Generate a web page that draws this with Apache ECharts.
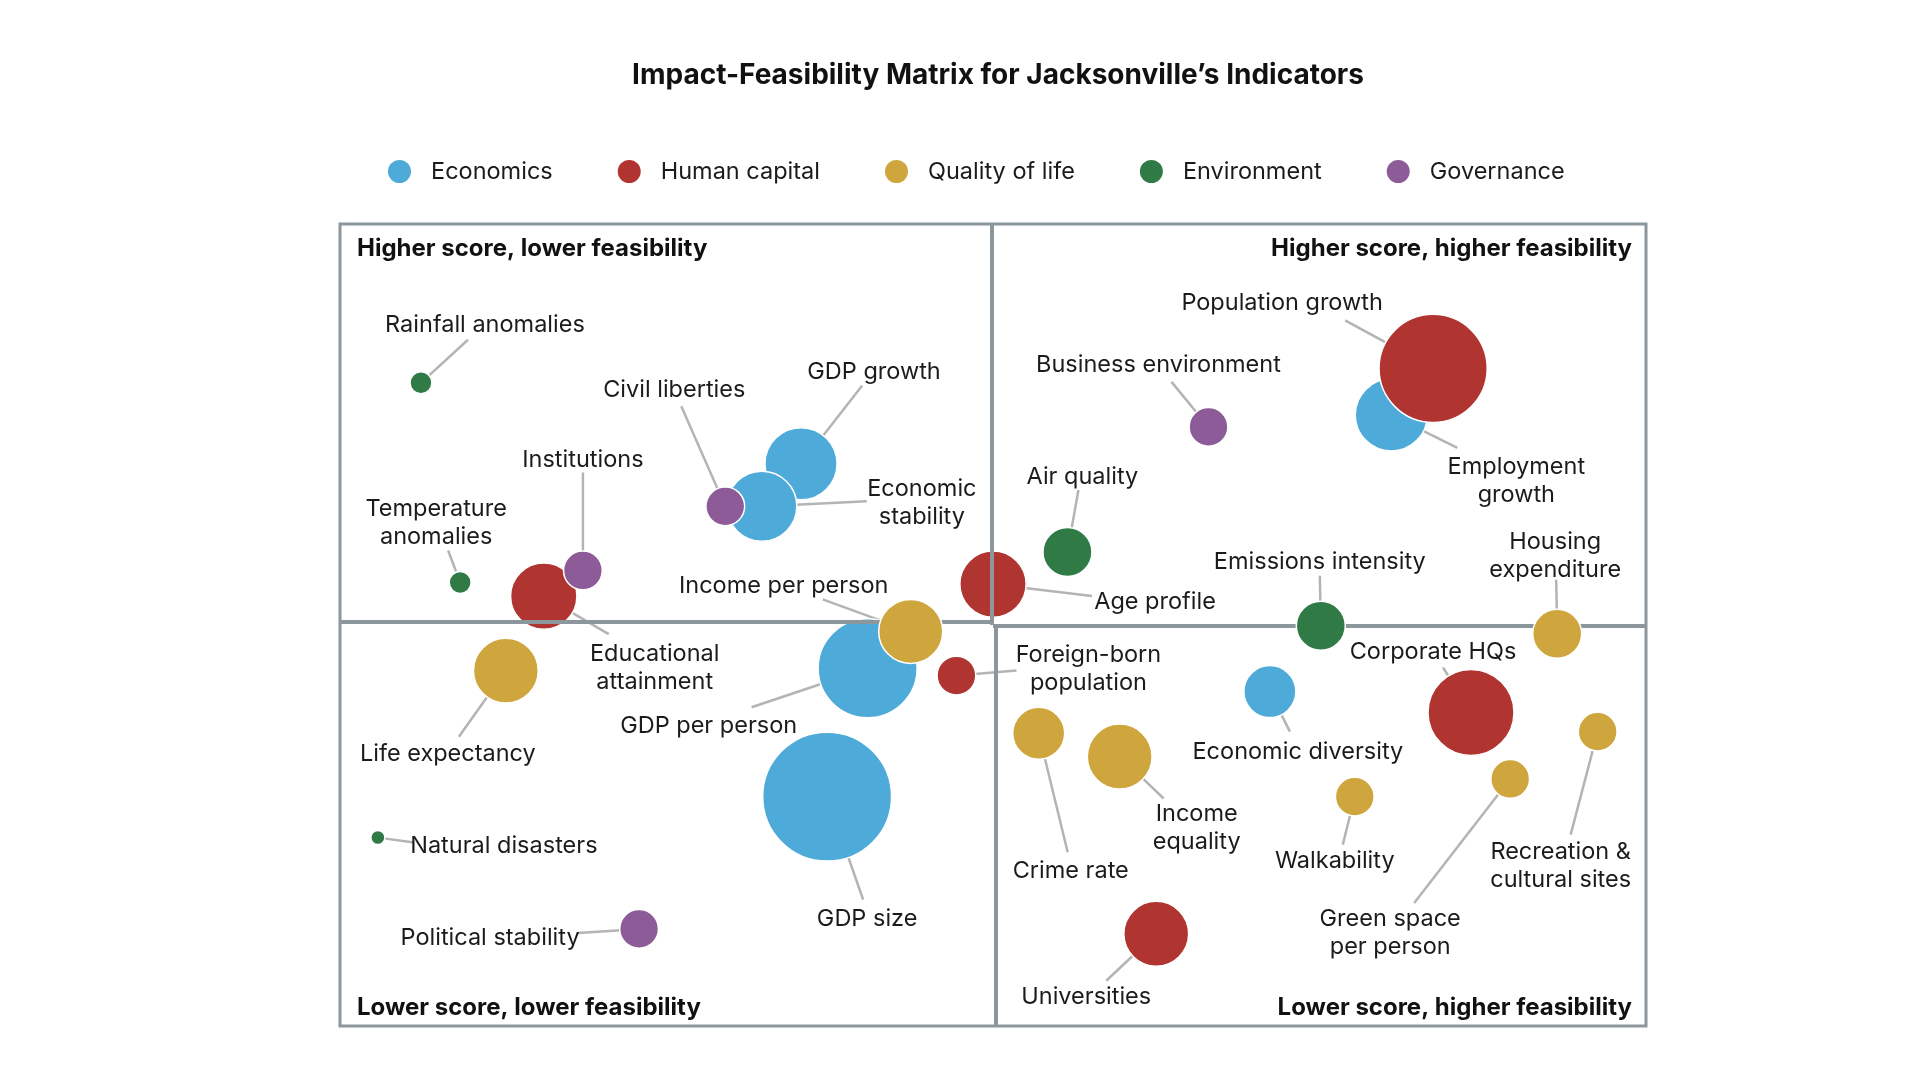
<!DOCTYPE html>
<html>
<head>
<meta charset="utf-8">
<script src="https://cdn.jsdelivr.net/npm/echarts@6/dist/echarts.min.js"></script>
</head>
<body style="margin: 0; background: #fff">
<div id="container" style="width: 1920px; height: 1080px;"></div>
<script>

// indicator groups (legend order = drawing order)
var categories = ['Economics', 'Human capital', 'Quality of life', 'Environment', 'Governance'];
var colors = ['#4DAAD9', '#B0342F', '#CFA53D', '#2F7A45', '#8D5B98'];

var indicators = [
    'GDP growth', 'Economic stability', 'GDP per person', 'GDP size', 'Employment growth', 'Economic diversity',
    'Educational attainment', 'Age profile', 'Population growth', 'Foreign-born population', 'Corporate HQs', 'Universities',
    'Income per person', 'Housing expenditure', 'Life expectancy', 'Crime rate', 'Income equality', 'Walkability',
    'Green space per person', 'Recreation & cultural sites',
    'Rainfall anomalies', 'Temperature anomalies', 'Air quality', 'Emissions intensity', 'Natural disasters',
    'Institutions', 'Civil liberties', 'Business environment', 'Political stability'
];
var group = [
    0, 0, 0, 0, 0, 0,
    1, 1, 1, 1, 1, 1,
    2, 2, 2, 2, 2, 2, 2, 2,
    3, 3, 3, 3, 3,
    4, 4, 4, 4
];
// x: feasibility (0-100), y: score (0-100), size: bubble magnitude
var feasibility = [
    35.3, 32.3, 40.4, 37.3, 80.5, 71.2,
    15.6, 50.0, 83.7, 47.2, 86.6, 62.5,
    43.7, 93.2, 12.7, 53.5, 59.7, 77.7, 89.6, 96.3,
    6.2, 9.2, 55.7, 75.1, 2.9,
    18.6, 29.5, 66.5, 22.9
];
var score = [
    70.1, 64.8, 44.6, 28.6, 76.2, 41.7,
    53.6, 55.1, 82.0, 43.7, 39.1, 11.5,
    49.2, 48.9, 44.3, 36.5, 33.6, 28.6, 30.8, 36.7,
    80.2, 55.3, 59.1, 49.9, 23.5,
    56.8, 64.8, 74.7, 12.1
];
var magnitude = [
    52, 49, 98, 166, 52, 27,
    44, 44, 117, 15, 74, 42,
    41, 24, 42, 27, 42, 15, 15, 15,
    4.8, 4.8, 24, 24, 2,
    15, 15, 15, 15
];

// quadrant dividers (data units)
var midX = [49.9, 50.2];   // upper part, lower part
var midY = [50.4, 49.9];   // left part, right part

// label text with line breaks
var labelText = {
    'Economic stability': 'Economic\nstability',
    'Employment growth': 'Employment\ngrowth',
    'Educational attainment': 'Educational\nattainment',
    'Foreign-born population': 'Foreign-born\npopulation',
    'Income equality': 'Income\nequality',
    'Housing expenditure': 'Housing\nexpenditure',
    'Green space per person': 'Green space\nper person',
    'Recreation & cultural sites': 'Recreation &\ncultural sites',
    'Temperature anomalies': 'Temperature\nanomalies'
};
// label centre, offset from bubble centre (px)
var labelOffset = {
    'GDP growth': [73, -92], 'Economic stability': [160, -3], 'GDP per person': [-159, 58],
    'GDP size': [40, 122], 'Employment growth': [125, 66], 'Economic diversity': [28, 60],
    'Educational attainment': [111, 72], 'Age profile': [162, 18], 'Population growth': [-151, -65],
    'Foreign-born population': [132, -7], 'Corporate HQs': [-38, -60], 'Universities': [-70, 63],
    'Income per person': [-127, -45], 'Housing expenditure': [-2, -78], 'Life expectancy': [-58, 83],
    'Crime rate': [32, 138], 'Income equality': [77, 71], 'Walkability': [-20, 64],
    'Green space per person': [-120, 154], 'Recreation & cultural sites': [-37, 134],
    'Rainfall anomalies': [64, -58], 'Temperature anomalies': [-24, -60], 'Air quality': [15, -75],
    'Emissions intensity': [-1, -64], 'Natural disasters': [126, 8],
    'Institutions': [0, -111], 'Civil liberties': [-51, -116], 'Business environment': [-50, -62],
    'Political stability': [-149, 9]
};
// leader line end near the label, offset from bubble centre (px)
var leaderEnd = {
    'GDP growth': [61, -78], 'Economic stability': [105, -5], 'GDP per person': [-116, 39],
    'GDP size': [36, 103], 'Employment growth': [66, 33], 'Economic diversity': [20, 40],
    'Educational attainment': [65, 38], 'Age profile': [99, 12], 'Population growth': [-88, -48],
    'Foreign-born population': [60, -5], 'Corporate HQs': [-28, -45], 'Universities': [-50, 47],
    'Income per person': [-88, -32], 'Housing expenditure': [-1, -54], 'Life expectancy': [-47, 66],
    'Crime rate': [29, 119], 'Income equality': [44, 42], 'Walkability': [-12, 48],
    'Green space per person': [-96, 124], 'Recreation & cultural sites': [-27, 103],
    'Rainfall anomalies': [47, -43], 'Temperature anomalies': [-12, -32], 'Air quality': [11, -62],
    'Emissions intensity': [-1, -50], 'Natural disasters': [36, 5],
    'Institutions': [0, -98], 'Civil liberties': [-44, -100], 'Business environment': [-37, -45],
    'Political stability': [-61, 4]
};

var frameColor = '#8C969D';
var leaderColor = '#B4B4B4';
var font = 'Inter';

function bubbleSize(m) { return Math.sqrt(m) * 10; }

var dom = document.getElementById('container');
var myChart = echarts.init(dom);

var series = categories.map(function (cat, ci) {
    var data = [];
    for (var i = 0; i < indicators.length; i++) {
        if (group[i] !== ci) continue;
        data.push({ name: indicators[i], value: [feasibility[i], score[i], magnitude[i]] });
    }
    return {
        name: cat,
        type: 'scatter',
        data: data,
        symbolSize: function (v) { return bubbleSize(v[2]); },
        itemStyle: { color: colors[ci], opacity: 1, borderColor: '#fff', borderWidth: 1.5 },
        label: {
            show: true,
            position: 'inside',
            formatter: function (p) { return labelText[p.name] || p.name; },
            color: '#1b1b1b',
            fontFamily: font,
            fontSize: 23.5,
            lineHeight: 28,
            align: 'center',
            verticalAlign: 'middle'
        },
        labelLayout: function (p) {
            var o = labelOffset[data[p.dataIndex].name];
            return { dx: o[0], dy: o[1] };
        },
        emphasis: { disabled: true },
        z: 3 + ci
    };
});

// leader lines, drawn under the bubbles
series.unshift({
    type: 'custom',
    silent: true,
    z: 2,
    data: indicators.map(function (n, i) { return [feasibility[i], score[i], magnitude[i], i]; }),
    renderItem: function (params, api) {
        var c = api.coord([api.value(0), api.value(1)]);
        var off = leaderEnd[indicators[api.value(3)]];
        var len = Math.sqrt(off[0] * off[0] + off[1] * off[1]);
        var r = bubbleSize(api.value(2)) / 2 - 1;
        return {
            type: 'line',
            shape: {
                x1: c[0] + off[0] * r / len, y1: c[1] + off[1] * r / len,
                x2: c[0] + off[0], y2: c[1] + off[1]
            },
            style: { stroke: leaderColor, lineWidth: 2.5 }
        };
    }
});

// quadrant dividers
series.unshift({
    type: 'scatter',
    data: [],
    silent: true,
    z: 1,
    markLine: {
        silent: true,
        symbol: 'none',
        label: { show: false },
        lineStyle: { color: frameColor, width: 4, type: 'solid' },
        data: [
            [{ coord: [midX[0], 50] }, { coord: [midX[0], 100] }],
            [{ coord: [midX[1], 0] }, { coord: [midX[1], 50] }],
            [{ coord: [0, midY[0]] }, { coord: [50, midY[0]] }],
            [{ coord: [50, midY[1]] }, { coord: [100, midY[1]] }]
        ]
    }
});

var quadTitle = { fontFamily: font, fontSize: 24, fontWeight: 'bold', color: '#111' };

var option = {
    animation: false,
    title: [
        {
            text: 'Impact-Feasibility Matrix for Jacksonville\u2019s Indicators',
            left: 993, top: 57, textAlign: 'center',
            textStyle: { fontFamily: font, fontSize: 28, fontWeight: 'bold', color: '#111' }
        },
        { text: 'Higher score, lower feasibility', left: 352, top: 232, textStyle: quadTitle },
        { text: 'Higher score, higher feasibility', right: 283, top: 232, textStyle: quadTitle },
        { text: 'Lower score, lower feasibility', left: 352, top: 991, textStyle: quadTitle },
        { text: 'Lower score, higher feasibility', right: 283, top: 991, textStyle: quadTitle }
    ],
    legend: {
        data: categories,
        left: 386,
        top: 158,
        padding: 0,
        icon: 'circle',
        itemWidth: 25,
        itemHeight: 25,
        itemGap: 63,
        textStyle: { fontFamily: font, fontSize: 23.5, color: '#1b1b1b', padding: [0, 0, 0, 14] }
    },
    grid: {
        left: 340, top: 224, width: 1306, height: 802,
        show: true, borderColor: frameColor, borderWidth: 3, backgroundColor: 'transparent'
    },
    xAxis: {
        type: 'value', min: 0, max: 100,
        axisLine: { show: false }, axisTick: { show: false }, axisLabel: { show: false }, splitLine: { show: false }
    },
    yAxis: {
        type: 'value', min: 0, max: 100,
        axisLine: { show: false }, axisTick: { show: false }, axisLabel: { show: false }, splitLine: { show: false }
    },
    series: series
};

myChart.setOption(option);

</script>
</body>
</html>
